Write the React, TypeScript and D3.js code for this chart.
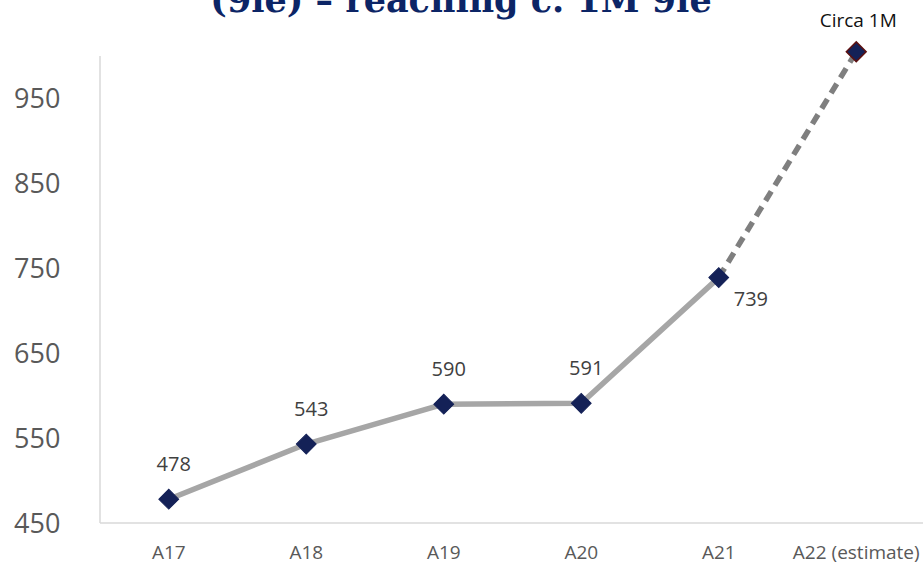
import * as d3 from "d3";

const categories = ["A17", "A18", "A19", "A20", "A21", "A22 (estimate)"];
const values = [478, 543, 590, 591, 739, 1005];
const pointLabels = ["478", "543", "590", "591", "739", "Circa 1M"];
const yTicks = [450, 550, 650, 750, 850, 950];

const W = 923;
const H = 566;
const NAVY = "#142157";

export default function App() {
  const x = d3.scaleBand<string>().domain(categories).range([100, 925]);
  const y = d3.scaleLinear().domain([450, 1000]).range([523, 56]);
  const cx = (i: number) => (x(categories[i]) ?? 0) + x.bandwidth() / 2;

  const pts = values.map((v, i) => [cx(i), y(v)] as [number, number]);
  const line = d3.line();
  const solid = line(pts.slice(0, 5)) ?? "";
  const dashed = line(pts.slice(4)) ?? "";

  // label offsets: most sit above the marker, 739 sits to the lower right
  const labelPos = (i: number): [number, number, string] => {
    const [px, py] = pts[i];
    if (i === 4) return [px + 15, py + 21, "start"];
    if (i === 5) return [px + 2, py - 31, "middle"];
    return [px + 5, py - 35, "middle"];
  };

  return (
    <svg
      width={W}
      height={H}
      style={{ position: "absolute", left: 0, top: 0, background: "#fff" }}
    >
      <text
        x={461}
        y={12}
        textAnchor="middle"
        fontFamily="'DejaVu Serif', serif"
        fontWeight="bold"
        fontSize={35}
        fill="#0c2566"
      >
        (9le) – reaching c. 1M 9le
      </text>

      {/* axes */}
      <line x1={100} x2={100} y1={y(1000)} y2={y(450)} stroke="#d9d9d9" strokeWidth={1.5} />
      <line x1={100} x2={923} y1={y(450)} y2={y(450)} stroke="#d9d9d9" strokeWidth={1.5} />

      {yTicks.map((t) => (
        <text
          key={t}
          x={14}
          y={y(t)}
          dy="0.36em"
          fontFamily="'Open Sans', sans-serif"
          fontSize={27}
          fill="#595959"
        >
          {t}
        </text>
      ))}

      {categories.map((c) => (
        <text
          key={c}
          x={(x(c) ?? 0) + x.bandwidth() / 2}
          y={552}
          dy="0.35em"
          textAnchor="middle"
          fontFamily="'Liberation Sans Narrow', 'Open Sans', sans-serif"
          fontSize={19}
          fill="#595959"
        >
          {c}
        </text>
      ))}

      <path d={solid} fill="none" stroke="#a6a6a6" strokeWidth={5.5} strokeLinejoin="round" />
      <path d={dashed} fill="none" stroke="#7f7f7f" strokeWidth={5.5} strokeDasharray="11,7" />

      {pts.map(([px, py], i) => (
        <rect
          key={i}
          x={px - 7}
          y={py - 7}
          width={14}
          height={14}
          transform={`rotate(45 ${px} ${py})`}
          fill={NAVY}
          stroke={i === 5 ? "#5c1010" : NAVY}
          strokeWidth={i === 5 ? 1.5 : 1}
        />
      ))}

      {pointLabels.map((lab, i) => {
        const [lx, ly, anchor] = labelPos(i);
        return (
          <text
            key={lab}
            x={lx}
            y={ly}
            dy="0.35em"
            textAnchor={anchor}
            fontFamily="'Open Sans', sans-serif"
            fontSize={i === 5 ? 19 : 20}
            fill={i === 5 ? "#111" : "#404040"}
          >
            {lab}
          </text>
        );
      })}
    </svg>
  );
}
